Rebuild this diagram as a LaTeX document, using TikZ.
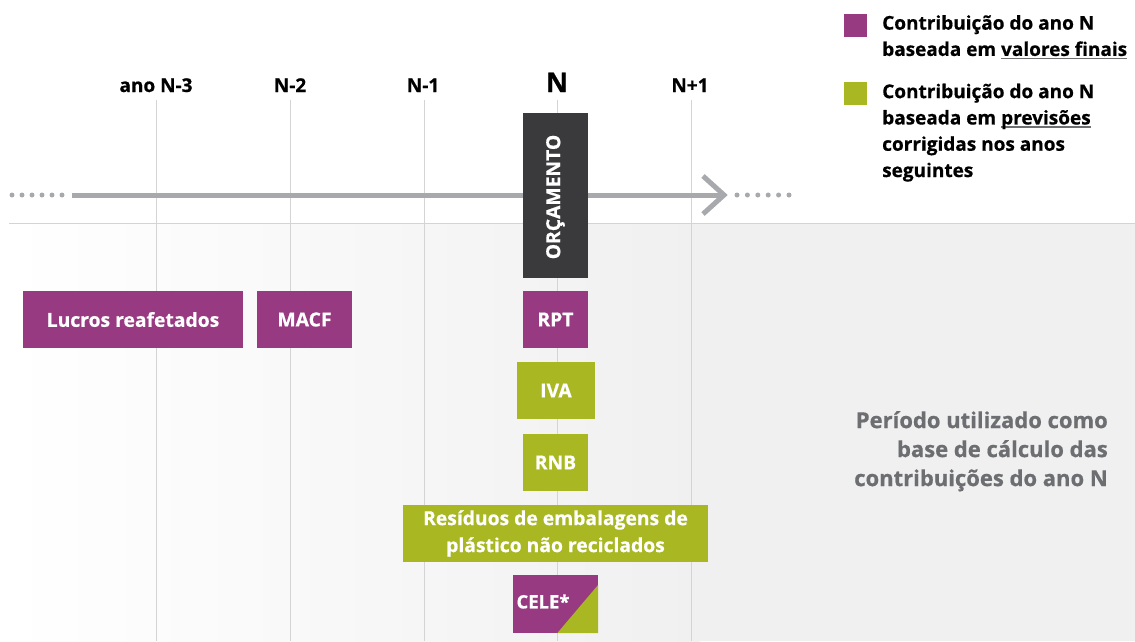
\documentclass[tikz,border=0pt]{standalone}
\usepackage{fontspec}
\setmainfont{Open Sans}[BoldFeatures={FakeBold=0.6}]
\usetikzlibrary{shadings}
\definecolor{purp}{HTML}{983A81}
\definecolor{grn}{HTML}{A8B722}
\definecolor{dark}{HTML}{3A393B}
\definecolor{axis}{HTML}{A7A9AC}
\definecolor{grid}{HTML}{D4D4D4}
\definecolor{bggray}{HTML}{F0F0F0}
\definecolor{txtgray}{HTML}{6D6E71}
\newcommand\myul[1]{\setbox0\hbox{#1}\rlap{\color{txtgray}\rule[-3.4pt]{\wd0}{1.6pt}}\box0}
\tikzset{
  box/.style={minimum height=57pt, inner sep=0pt, text=white, font=\bfseries\fontsize{19.3}{22}\selectfont, align=center},
  pbox/.style={box, fill=purp},
  gbox/.style={box, fill=grn},
  year/.style={font=\bfseries\fontsize{19}{20}\selectfont, inner sep=0pt},
  gridline/.style={draw=grid, line width=1pt},
  dot/.style={fill=axis, draw=none, circle, inner sep=0pt, minimum size=5pt},
  legtext/.style={anchor=north west, inner sep=0pt, align=left, font=\bfseries\fontsize{19}{26.3}\selectfont},
}
\begin{document}
\begin{tikzpicture}[x=1pt,y=-1pt]
\useasboundingbox (0,0) rectangle (1135,641);
% background
\shade[left color=white, right color=bggray, draw=none] (9,223) rectangle (700,641);
\fill[bggray] (699.5,223) rectangle (1135,641);
\draw[gridline] (9,223) -- (1135,223);
% grid lines
\foreach \x/\n in {156/a,290/b,424/c,557/d,691/e}{
  \coordinate (t\n) at (\x,100);
  \coordinate (b\n) at (\x,641);
  \draw[gridline] (t\n) -- (b\n);
}
% year labels
\node[year, anchor=base] (ya) at (156,92) {ano N-3};
\node[year, anchor=base] (yb) at (290,92) {N-2};
\node[year, anchor=base] (yc) at (423,92) {N-1};
\node[year, anchor=base, font=\bfseries\fontsize{27}{28}\selectfont] (yd) at (557,92) {N};
\node[year, anchor=base] (ye) at (690,92) {N+1};
% axis
\coordinate (as) at (72,195);
\coordinate (ae) at (722,195);
\draw[axis, line width=5pt] (as) -- (ae);
\coordinate (c1) at (703,176);
\coordinate (c2) at (724,195);
\coordinate (c3) at (703,214);
\draw[axis, line width=5pt, line join=miter] (c1) -- (c2) -- (c3);
\foreach \i in {0,...,5}{
  \node[dot] (dl\i) at (12+10*\i,195) {};
  \node[dot] (dr\i) at (737+10.4*\i,195) {};
}
% boxes
\node[box, fill=dark, minimum width=65pt, minimum height=165pt] (orc) at (555.5,195.5) {};
\node[text=white, font=\bfseries\fontsize{19.3}{22}\selectfont, rotate=90, inner sep=0pt] (orct) at (555.5,197) {ORÇAMENTO};
\node[pbox, minimum width=220pt] (lucros) at (133,319.5) {Lucros reafetados};
\node[pbox, minimum width=95pt] (macf) at (304.5,319.5) {MACF};
\node[pbox, minimum width=65pt] (rpt) at (555.5,319.5) {RPT};
\node[gbox, minimum width=78pt] (iva) at (556,390.5) {IVA};
\node[gbox, minimum width=65pt] (rnb) at (555.5,462.5) {RNB};
\node[gbox, minimum width=305pt, font=\bfseries\fontsize{19.3}{27}\selectfont] (resid) at (555.5,533.5) {Resíduos de embalagens de\\plástico não reciclados};
\node[pbox, minimum width=85pt, minimum height=58pt] (cele) at (555.5,604) {};
\fill[grn] (cele.north east) ++(0,10) -- (cele.south east) -- ++(-41,0) -- cycle;
\node[text=white, font=\bfseries\fontsize{18.5}{22}\selectfont, inner sep=0pt] (celet) at (543,601.5) {CELE*};
% legend
\node[fill=purp, minimum size=23pt, inner sep=0pt] (lp) at (855.5,25.5) {};
\node[fill=grn, minimum size=23pt, inner sep=0pt] (lg) at (855.5,93) {};
\node[legtext] (lpt) at (882,15) {Contribuição do ano N\\baseada em \myul{valores finais}};
\node[legtext] (lgt) at (882,83.5) {Contribuição do ano N\\baseada em \myul{previsões}\\corrigidas nos anos\\seguintes};
% period text
\node[anchor=north east, inner sep=0pt, align=right, text=txtgray, font=\bfseries\fontsize{22}{29}\selectfont] (per) at (1108,411) {Período utilizado como\\base de cálculo das\\contribuições do ano N};
\end{tikzpicture}
\end{document}
